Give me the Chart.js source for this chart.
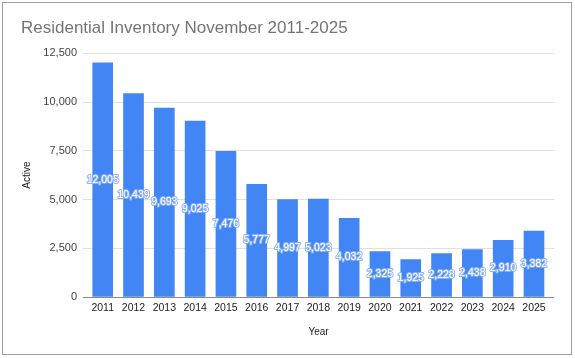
<!DOCTYPE html>
<html>
<head>
<meta charset="utf-8">
<script src="https://cdn.jsdelivr.net/npm/chart.js@4.4.1/dist/chart.umd.min.js"></script>
<style>
  html, body { margin: 0; padding: 0; background: #fff; }
  #wrap { position: relative; width: 575px; height: 358px; }
  #frame {
    position: absolute; left: 2px; top: 2px; width: 570px; height: 353px;
    box-sizing: border-box; border: 1px solid #9e9e9e; pointer-events: none;
  }
  canvas { position: absolute; left: 0; top: 0; }
</style>
</head>
<body>
<div id="wrap">
  <canvas id="inventory-chart" width="575" height="358"></canvas>
  <div id="frame"></div>
</div>
<script>
'use strict';

const years = [2011, 2012, 2013, 2014, 2015, 2016, 2017, 2018, 2019, 2020, 2021, 2022, 2023, 2024, 2025];
const active = [12005, 10439, 9693, 9025, 7476, 5777, 4997, 5023, 4032, 2325, 1925, 2228, 2438, 2910, 3382];
const yTicks = [0, 2500, 5000, 7500, 10000, 12500];

const FONT = 'Arial, "Liberation Sans", sans-serif';
const fmt = (v) => Number(v).toLocaleString('en-US');

// white value labels in the middle of each bar, with a light blue halo
const barLabels = {
  id: 'barLabels',
  afterDatasetsDraw(chart) {
    const ctx = chart.ctx;
    const meta = chart.getDatasetMeta(0);
    ctx.save();
    ctx.font = '10.5px ' + FONT;
    ctx.textAlign = 'center';
    ctx.textBaseline = 'middle';
    ctx.lineJoin = 'round';
    meta.data.forEach((bar, i) => {
      const y = (bar.y + bar.base) / 2;
      const txt = fmt(active[i]);
      ctx.lineWidth = 2;
      ctx.strokeStyle = '#8fb5f6';
      ctx.strokeText(txt, bar.x, y);
      ctx.fillStyle = '#ffffff';
      ctx.fillText(txt, bar.x, y);
    });
    ctx.restore();
  }
};

let ctx = document.getElementById('inventory-chart').getContext('2d');
new Chart(ctx, {
  type: 'bar',
  data: {
    datasets: [{
      data: years.map((yr, i) => ({ x: yr, y: active[i] })),
      backgroundColor: '#4285f4',
      barThickness: 20,
    }],
  },
  options: {
    responsive: false,
    animation: false,
    devicePixelRatio: 1,
    layout: { padding: { left: 21, right: 21, top: 0, bottom: 0 } },
    plugins: {
      legend: { display: false },
      tooltip: { enabled: false },
      title: {
        display: true,
        text: 'Residential Inventory November 2011-2025',
        align: 'start',
        color: '#757575',
        font: { family: FONT, size: 17, weight: 'normal' },
        padding: { top: 17.9, bottom: 15 },
      },
    },
    scales: {
      x: {
        type: 'linear',
        offset: false,
        min: years[0] - 0.64,
        max: years[years.length - 1] + 0.65,
        afterBuildTicks: (axis) => { axis.ticks = years.map((v) => ({ value: v })); },
        afterFit: (axis) => {
          axis.height = 61;
          axis.paddingLeft = 0;
          axis.paddingRight = 0;
        },
        grid: { display: false, drawTicks: false },
        border: { display: false },
        ticks: {
          autoSkip: false,
          maxRotation: 0,
          padding: 5,
          color: '#222',
          font: { family: FONT, size: 10.5 },
          callback: (v) => String(v),
        },
        title: {
          display: true,
          text: 'Year',
          color: '#222',
          font: { family: FONT, size: 10 },
          padding: { top: 0, bottom: 20 },
        },
      },
      y: {
        min: 0,
        max: 12500,
        afterBuildTicks: (axis) => { axis.ticks = yTicks.map((v) => ({ value: v })); },
        afterFit: (axis) => { axis.width = 62; },
        border: { display: false },
        grid: {
          drawTicks: false,
          color: (c) => (c.tick && c.tick.value === 0 ? '#8a8a8a' : '#e0e0e0'),
        },
        ticks: {
          padding: 6,
          color: '#444',
          font: { family: FONT, size: 11 },
          callback: (v) => fmt(v),
        },
        title: {
          display: true,
          text: 'Active',
          color: '#222',
          font: { family: FONT, size: 10 },
          padding: { top: 0, bottom: 0 },
        },
      },
    },
  },
  plugins: [barLabels],
});
</script>
</body>
</html>
